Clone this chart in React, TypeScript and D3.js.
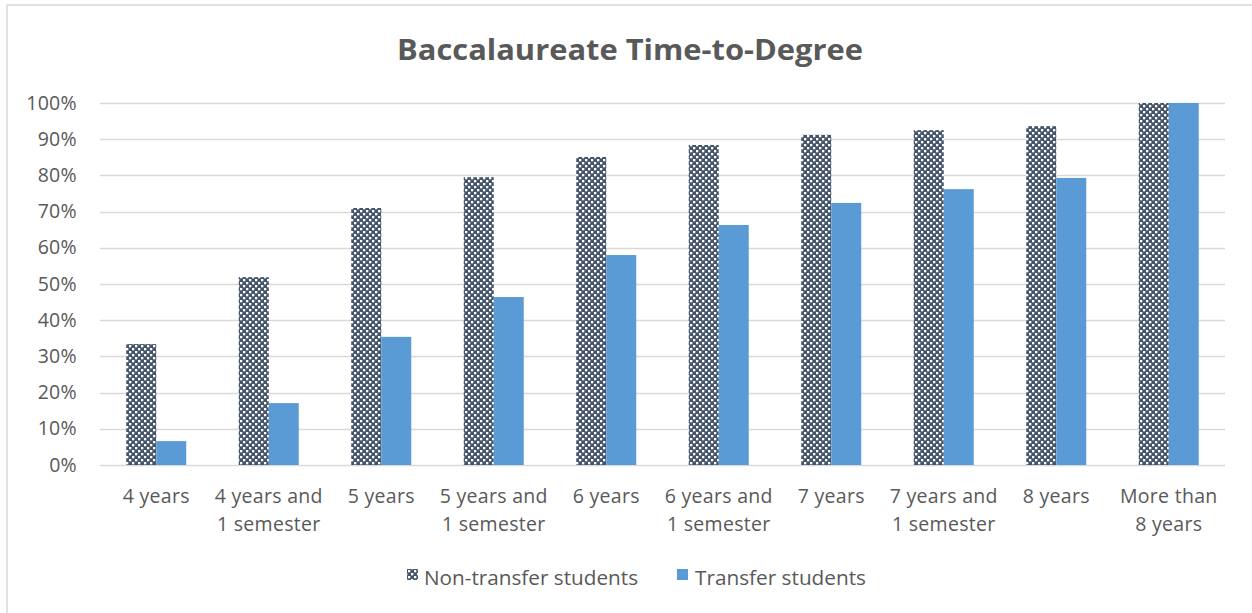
import React from "react";
import * as d3 from "d3";

const categories: string[][] = [
  ["4 years"],
  ["4 years and", "1 semester"],
  ["5 years"],
  ["5 years and", "1 semester"],
  ["6 years"],
  ["6 years and", "1 semester"],
  ["7 years"],
  ["7 years and", "1 semester"],
  ["8 years"],
  ["More than", "8 years"],
];
const nonTransfer = [33.4, 51.9, 71.0, 79.5, 85.1, 88.4, 91.2, 92.5, 93.6, 100];
const transfer = [6.6, 17.1, 35.4, 46.4, 58.0, 66.3, 72.4, 76.2, 79.3, 100];
const yTicks = [0, 10, 20, 30, 40, 50, 60, 70, 80, 90, 100];
const seriesNames = ["Non-transfer students", "Transfer students"];

const W = 1252;
const H = 613;
const plotLeft = 100;
const plotRight = 1225;
const plotTop = 103;
const plotBottom = 465;
const dark = "#44546A";
const blue = "#5B9BD5";
const textColor = "#595959";
const font = "'Open Sans', 'Liberation Sans', sans-serif";

export default function App() {
  const x = d3
    .scaleBand<number>()
    .domain(categories.map((_, i) => i))
    .range([plotLeft, plotRight]);
  const y = d3.scaleLinear().domain([0, 100]).range([plotBottom, plotTop]);
  const barW = 30;

  return (
    <svg
      width={W}
      height={H}
      style={{ position: "absolute", left: 0, top: 0, background: "#fff" }}
    >
      <defs>
        <pattern id="checker" patternUnits="userSpaceOnUse" width={6} height={6}>
          <rect width={6} height={6} fill={dark} />
          <rect x={0} y={0} width={2.3} height={2.3} fill="#fff" />
          <rect x={3} y={3} width={2.3} height={2.3} fill="#fff" />
        </pattern>
      </defs>
      <rect x={7} y={5} width={W} height={H} fill="#fff" stroke="#d9d9d9" strokeWidth={1.5} />
      <text
        x={630}
        y={60}
        textAnchor="middle"
        fontFamily={font}
        fontWeight={700}
        fontSize={29}
        fill={textColor}
        textLength={466}
        lengthAdjust="spacingAndGlyphs"
      >
        Baccalaureate Time-to-Degree
      </text>
      {yTicks.map((t) => (
        <g key={t}>
          <line
            x1={plotLeft}
            x2={plotRight}
            y1={Math.round(y(t)) + 0.5}
            y2={Math.round(y(t)) + 0.5}
            stroke="#d9d9d9"
            strokeWidth={1.3}
          />
          <text
            x={77}
            y={y(t) + 6.5}
            textAnchor="end"
            fontFamily={font}
            fontSize={19.5}
            letterSpacing={0.3}
            fill={textColor}
          >
            {t}%
          </text>
        </g>
      ))}
      {categories.map((c, i) => {
        const cx = (x(i) as number) + x.bandwidth() / 2;
        return (
          <g key={i}>
            <rect
              x={cx - barW}
              y={y(nonTransfer[i])}
              width={barW}
              height={plotBottom - y(nonTransfer[i])}
              fill="url(#checker)"
            />
            <rect
              x={cx}
              y={y(transfer[i])}
              width={barW}
              height={plotBottom - y(transfer[i])}
              fill={blue}
            />
            {c.map((line, j) => (
              <text
                key={j}
                x={cx}
                y={503 + j * 28}
                textAnchor="middle"
                fontFamily={font}
                fontSize={19.5}
                letterSpacing={0.3}
                fill={textColor}
              >
                {line}
              </text>
            ))}
          </g>
        );
      })}
      <rect x={407} y={569} width={11} height={11} fill="url(#checker)" />
      <text
        x={424}
        y={585}
        fontFamily={font}
        fontSize={19.5}
        fill={textColor}
        textLength={214}
        lengthAdjust="spacingAndGlyphs"
      >
        {seriesNames[0]}
      </text>
      <rect x={677} y={569} width={11} height={11} fill={blue} />
      <text
        x={695}
        y={585}
        fontFamily={font}
        fontSize={19.5}
        fill={textColor}
        textLength={171}
        lengthAdjust="spacingAndGlyphs"
      >
        {seriesNames[1]}
      </text>
    </svg>
  );
}
